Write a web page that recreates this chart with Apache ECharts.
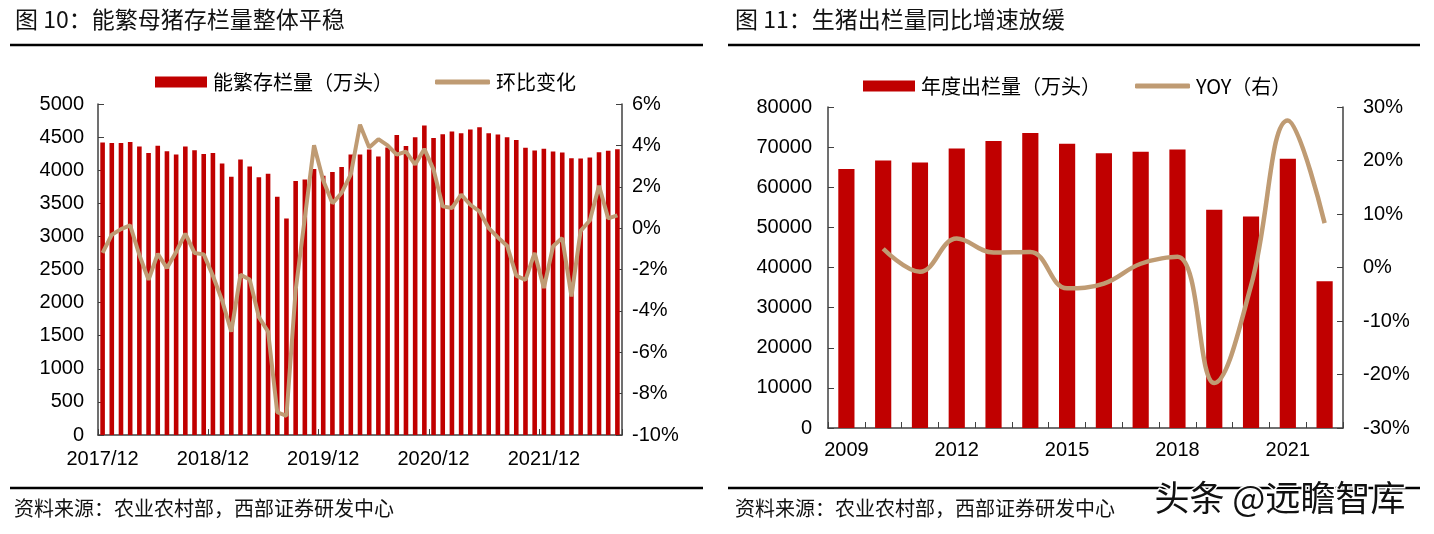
<!DOCTYPE html>
<html>
<head>
<meta charset="utf-8">
<script src="https://cdn.jsdelivr.net/npm/echarts@6/dist/echarts.min.js"></script>
<style>
html,body{margin:0;padding:0;background:#fff;}
#c{width:1434px;height:534px;}
</style>
</head>
<body>
<div id="c"></div>
<script>
// ---- Left chart data (能繁母猪) ----
const monthCats = ['2017/12','2018/01','2018/02','2018/03','2018/04','2018/05','2018/06','2018/07','2018/08','2018/09','2018/10','2018/11',
'2018/12','2019/01','2019/02','2019/03','2019/04','2019/05','2019/06','2019/07','2019/08','2019/09','2019/10','2019/11',
'2019/12','2020/01','2020/02','2020/03','2020/04','2020/05','2020/06','2020/07','2020/08','2020/09','2020/10','2020/11',
'2020/12','2021/01','2021/02','2021/03','2021/04','2021/05','2021/06','2021/07','2021/08','2021/09','2021/10','2021/11',
'2021/12','2022/01','2022/02','2022/03','2022/04','2022/05','2022/06','2022/07','2022/08'];
const sowStock = [4420,4409,4409,4425,4359,4258,4369,4288,4238,4359,
4303,4243,4258,4103,3900,4163,4057,3893,3946,3598,
3272,3835,3861,4017,3916,3971,4047,4238,4238,4314,
4208,4344,4530,4364,4497,4674,4487,4543,4585,4557,
4615,4648,4557,4538,4497,4455,4341,4296,4324,4284,
4266,4182,4175,4190,4273,4293,4318];
const sowMoM = [-1.2,-0.32,-0.05,0.13,-1.3,-2.5,-1.24,-1.93,-1.15,-0.27,
-1.2,-1.27,-2.3,-3.5,-5.0,-2.25,-2.48,-4.3,-5.0,-8.9,
-9.08,-3.0,0.5,4.0,2.3,1.2,1.7,2.6,5.0,3.9,
4.3,4.0,3.55,3.7,3.07,3.83,2.83,1.05,0.97,1.62,
1.13,0.81,0.0,-0.45,-0.85,-2.3,-2.5,-1.2,-2.9,-0.88,
-0.48,-3.3,-0.13,0.37,2.05,0.47,0.62];

// ---- Right chart data (生猪出栏) ----
const years = ['2009','2010','2011','2012','2013','2014','2015','2016','2017','2018','2019','2020','2021','2022'];
const hogOutput = [64539,66686,66170,69628,71557,73510,70825,68502,68861,69382,54419,52704,67128,36587];
const hogYoY = [null,3.5,-0.8,5.4,2.8,2.9,-3.9,-3.0,0.7,2.0,-21.6,-3.4,27.5,8.3];

const RED = '#C00000';
const TAN = '#BF9B73';
const AX = '#404040';
const NUM = '"Liberation Sans", Arial, sans-serif';
const CJK = '"Noto Sans CJK SC", "Noto Sans", sans-serif';

const chart = echarts.init(document.getElementById('c'), null, {renderer:'canvas'});

function yAx(gi, min, max, interval, pos, margin, pct){
  return {
    type:'value', gridIndex:gi, min:min, max:max, interval:interval, position:pos,
    axisLine:{show:true, lineStyle:{color:AX, width:1.5}},
    axisTick:{show:true, inside:true, length:6, lineStyle:{color:AX}},
    splitLine:{show:false},
    axisLabel:{color:'#000', fontSize:20, fontFamily:NUM, margin:margin,
      formatter:function(v){ return String(v) + (pct ? '%' : ''); }}
  };
}
function leg(left, top, name, isLine){
  return {left:left, top:top, itemWidth: isLine ? 55 : 52, itemHeight: isLine ? 5 : 11, itemGap:10,
    textStyle:{fontSize:20, fontFamily:CJK, color:'#000', padding:[0,0,0,1]},
    data:[{name:name, icon: isLine ? 'roundRect' : 'rect'}]};
}

const option = {
  animation:false,
  backgroundColor:'#fff',
  textStyle:{fontFamily:CJK},
  graphic:[
    {type:'text', left:15, top:8, style:{text:'图 10：能繁母猪存栏量整体平稳', fontSize:23, fontFamily:CJK, fill:'#111'}},
    {type:'text', left:735, top:8, style:{text:'图 11：生猪出栏量同比增速放缓', fontSize:23, fontFamily:CJK, fill:'#111'}},
    {type:'line', shape:{x1:10,y1:45,x2:703,y2:45}, style:{stroke:'#000', lineWidth:2.5}},
    {type:'line', shape:{x1:728,y1:45,x2:1420,y2:45}, style:{stroke:'#000', lineWidth:2.5}},
    {type:'line', shape:{x1:10,y1:488,x2:703,y2:488}, style:{stroke:'#000', lineWidth:2.5}},
    {type:'line', shape:{x1:728,y1:488,x2:1420,y2:488}, style:{stroke:'#000', lineWidth:2.5}},
    {type:'text', left:14, top:498, style:{text:'资料来源：农业农村部，西部证券研发中心', fontSize:20, fontFamily:CJK, fill:'#111'}},
    {type:'text', left:735, top:498, style:{text:'资料来源：农业农村部，西部证券研发中心', fontSize:20, fontFamily:CJK, fill:'#111'}},
    {type:'text', left:1153, top:479, z:100, style:{text:'头条 @远瞻智库', fontSize:35, fontFamily:CJK, fill:'#111', stroke:'#fff', lineWidth:3}}
  ],
  legend:[
    leg(150, 67, '能繁存栏量（万头）', false),
    leg(430, 67, '环比变化', true),
    leg(858, 71, '年度出栏量（万头）', false),
    leg(1130, 71, 'YOY（右）', true)
  ],
  grid:[
    {left:98, right:812, top:104, bottom:99, containLabel:false},
    {left:828, right:91, top:107, bottom:106, containLabel:false}
  ],
  xAxis:[
    {type:'category', gridIndex:0, data:monthCats, boundaryGap:true,
     axisLine:{lineStyle:{color:AX, width:1.5}},
     axisTick:{show:true, inside:true, interval:11, length:6, lineStyle:{color:AX}},
     axisLabel:{interval:11, color:'#000', fontSize:20, fontFamily:NUM, margin:14}},
    {type:'category', gridIndex:1, data:years, boundaryGap:true,
     axisLine:{lineStyle:{color:AX, width:1.5}},
     axisTick:{show:true, inside:true, interval:0, length:6, lineStyle:{color:AX}},
     axisLabel:{interval:2, color:'#000', fontSize:20, fontFamily:NUM, margin:12}}
  ],
  yAxis:[
    yAx(0, 0, 5000, 500, 'left', 14, false),
    yAx(0, -10, 6, 2, 'right', 10, true),
    yAx(1, 0, 80000, 10000, 'left', 16, false),
    yAx(1, -30, 30, 10, 'right', 20, true)
  ],
  series:[
    {name:'能繁存栏量（万头）', type:'bar', xAxisIndex:0, yAxisIndex:0, data:sowStock,
     barWidth:'50%', itemStyle:{color:RED}},
    {name:'环比变化', type:'line', xAxisIndex:0, yAxisIndex:1, data:sowMoM,
     symbol:'none', lineStyle:{color:TAN, width:4}, itemStyle:{color:TAN}, z:5},
    {name:'年度出栏量（万头）', type:'bar', xAxisIndex:1, yAxisIndex:2, data:hogOutput,
     barWidth:'44%', itemStyle:{color:RED}},
    {name:'YOY（右）', type:'line', xAxisIndex:1, yAxisIndex:3, data:hogYoY,
     symbol:'none', smooth:0.4, connectNulls:false, lineStyle:{color:TAN, width:4.5}, itemStyle:{color:TAN}, z:5}
  ]
};
chart.setOption(option);
</script>
</body>
</html>
